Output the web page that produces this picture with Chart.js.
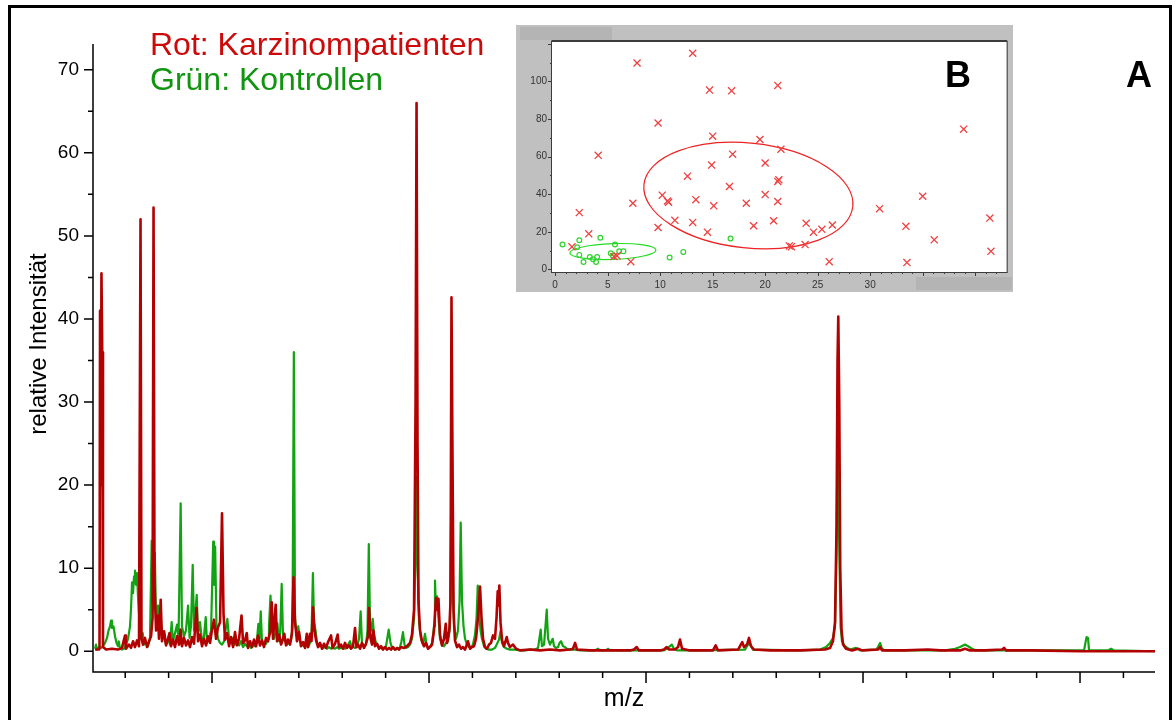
<!DOCTYPE html>
<html lang="de">
<head>
<meta charset="utf-8">
<title>Massenspektren</title>
<script src="https://cdn.jsdelivr.net/npm/chart.js@4.4.1/dist/chart.umd.min.js"></script>
<style>
  html, body { margin: 0; padding: 0; background: #fff; overflow: hidden; }
  #wrap { position: relative; width: 1176px; height: 720px; }
  #spektrum { position: absolute; left: 0; top: 0; }
  #streuung { position: absolute; left: 516px; top: 25px; }
  #rahmen { position: absolute; left: 8px; top: 5px; width: 1158px; height: 740px; border: 3px solid #000; pointer-events: none; }
</style>
</head>
<body>
<div id="wrap">
  <canvas id="spektrum" width="1176" height="720"></canvas>
  <canvas id="streuung" width="497" height="267"></canvas>
  <div id="rahmen"></div>
</div>
<script>
// Spektrum: m/z und relative Intensität, Karzinompatienten (rot)
const rotMz = [
  922, 958, 963, 968, 974, 981, 988, 995, 1023, 1078, 1134, 1170,
  1198, 1207, 1235, 1253, 1272, 1290, 1309, 1327, 1341, 1350, 1364, 1382,
  1401, 1419, 1438, 1452, 1461, 1470, 1484, 1502, 1511, 1527, 1539, 1558,
  1576, 1594, 1608, 1622, 1640, 1659, 1677, 1696, 1710, 1723, 1742, 1760,
  1779, 1797, 1816, 1834, 1857, 1871, 1889, 1908, 1926, 1945, 1963, 1982,
  2000, 2018, 2037, 2055, 2074, 2092, 2106, 2120, 2138, 2157, 2175, 2194,
  2212, 2230, 2249, 2272, 2286, 2304, 2320, 2332, 2350, 2369, 2387, 2406,
  2424, 2442, 2461, 2479, 2498, 2516, 2535, 2550, 2562, 2587, 2599, 2618,
  2636, 2650, 2666, 2682, 2700, 2719, 2737, 2751, 2765, 2783, 2802, 2820,
  2839, 2857, 2873, 2885, 2903, 2917, 2931, 2945, 2959, 2977, 2995, 3014,
  3032, 3051, 3069, 3097, 3111, 3134, 3158, 3170, 3189, 3207, 3226, 3244,
  3263, 3281, 3300, 3318, 3332, 3346, 3364, 3382, 3401, 3419, 3438, 3447,
  3461, 3475, 3488, 3502, 3521, 3539, 3558, 3576, 3594, 3613, 3631, 3650,
  3668, 3687, 3705, 3723, 3742, 3770, 3797, 3825, 3843, 3862, 3876, 3885,
  3894, 3903, 3917, 3935, 3954, 3972, 3991, 4009, 4028, 4046, 4064, 4076,
  4087, 4101, 4120, 4138, 4154, 4166, 4187, 4198, 4207, 4216, 4226, 4239,
  4258, 4276, 4295, 4313, 4332, 4359, 4378, 4396, 4415, 4433, 4451, 4470,
  4484, 4498, 4516, 4534, 4553, 4571, 4590, 4608, 4622, 4633, 4640, 4648,
  4659, 4673, 4691, 4716, 4728, 4746, 4774, 4802, 4839, 4931, 5023, 5115,
  5207, 5299, 5327, 5346, 5364, 5484, 5668, 5852, 5889, 5914, 5935, 6129,
  6166, 6191, 6212, 6267, 6295, 6313, 6332, 6405, 6617, 6642, 6663, 6848,
  6866, 6887, 6903, 6931, 6949, 6968, 6995, 7143, 7419, 7650, 7696, 7723,
  7742, 7756, 7765, 7772, 7781, 7790, 7802, 7816, 7843, 7899, 7954, 7991,
  8138, 8157, 8175, 8387, 8599, 8710, 8894, 8940, 8986, 9124, 9281, 9300,
  9318, 9539, 10000, 10369, 10691
];
const rotInt = [
  0.2, 0.2, 0.3, 41, 20, 45.5, 36, 0.5, 0.2, 0.3, 0.2, 0.4,
  1.9, 0.3, 0.8, 0.4, 1.2, 0.5, 1.3, 0.6, 52, 1.5, 0.8, 1.6,
  0.5, 1.2, 1.8, 4, 53.4, 8, 2.5, 4.3, 1.5, 6.2, 1.2, 2.4,
  0.7, 1.5, 2.2, 0.6, 1.4, 0.5, 1.8, 0.8, 2.6, 0.6, 1.6, 0.7,
  1.3, 0.5, 1.7, 0.9, 5.2, 1.2, 2.0, 0.6, 1.5, 0.7, 1.8, 1.0,
  2.6, 3.8, 1.5, 2.9, 3.5, 16.6, 4.5, 1.4, 2.2, 0.6, 1.7, 0.5,
  2.3, 0.7, 1.5, 4.3, 1.0, 1.3, 2.2, 0.4, 1.2, 0.5, 1.4, 0.6,
  1.9, 0.7, 1.3, 0.5, 1.6, 1.2, 2.3, 5.9, 1.5, 5.6, 1.2, 2.0,
  0.8, 1.3, 2.1, 0.7, 1.4, 0.8, 2.2, 8.9, 3.5, 1.2, 2.3, 0.6,
  1.1, 0.4, 2.1, 0.5, 2.1, 1.2, 5.3, 2.5, 1.3, 0.5, 1.0, 0.3,
  0.9, 0.4, 1.1, 1.9, 0.4, 0.9, 2.0, 0.5, 0.8, 0.3, 1.0, 0.4,
  0.7, 0.3, 0.6, 2.8, 0.5, 0.8, 0.3, 1.0, 0.4, 0.9, 1.8, 5.2,
  1.5, 0.8, 2.5, 0.6, 0.9, 0.3, 0.6, 0.2, 0.5, 0.2, 0.4, 0.2,
  0.5, 0.2, 0.4, 0.2, 0.5, 0.4, 0.6, 1.0, 2.0, 5.0, 30, 66,
  25, 6, 2.5, 1.2, 0.6, 1.0, 0.3, 0.5, 0.8, 2.5, 6.4, 5.0,
  6.3, 2.0, 0.7, 1.5, 3.3, 1.0, 2.5, 6, 42.6, 24, 5, 1.3,
  0.5, 0.8, 0.3, 0.5, 0.2, 1.2, 0.3, 0.5, 0.6, 1.5, 4.0, 7.8,
  4.0, 1.5, 0.5, 0.3, 0.8, 1.0, 1.9, 1.5, 4, 7.2, 5.5, 7.9,
  3.5, 1.3, 0.6, 1.7, 1.0, 0.5, 0.8, 0.3, 0.1, 0.2, 0.1, 0.2,
  0.1, 0.2, 0.3, 1.0, 0.2, 0.1, 0.1, 0.1, 0.2, 0.5, 0.1, 0.1,
  0.2, 0.5, 0.2, 0.2, 0.5, 1.4, 0.3, 0.1, 0.1, 0.7, 0.1, 0.2,
  0.6, 1.1, 0.5, 0.8, 1.6, 0.6, 0.2, 0.1, 0.1, 0.2, 0.4, 1.2,
  3.5, 15, 35, 40.3, 30, 10, 2.5, 0.8, 0.3, 0.1, 0.3, 0.1,
  0.2, 0.5, 0.1, 0.1, 0.2, 0.1, 0.1, 0.3, 0.1, 0.1, 0.2, 0.4,
  0.1, 0.1, 0, 0, 0
];

// Kontrollen (grün)
const gruenMz = [
  922, 931, 940, 958, 977, 995, 1014, 1032, 1046, 1060, 1069, 1078,
  1092, 1106, 1120, 1134, 1140, 1152, 1170, 1189, 1207, 1226, 1244, 1253,
  1263, 1272, 1281, 1290, 1299, 1309, 1318, 1327, 1336, 1346, 1361, 1373,
  1392, 1410, 1428, 1444, 1456, 1473, 1484, 1502, 1516, 1530, 1544, 1558,
  1576, 1594, 1613, 1628, 1640, 1659, 1677, 1691, 1711, 1723, 1742, 1760,
  1779, 1793, 1806, 1822, 1834, 1859, 1871, 1889, 1908, 1926, 1942, 1954,
  1972, 1991, 2011, 2018, 2029, 2041, 2055, 2074, 2092, 2111, 2124, 2141,
  2157, 2175, 2194, 2212, 2230, 2249, 2267, 2286, 2304, 2322, 2341, 2359,
  2378, 2396, 2415, 2427, 2438, 2449, 2461, 2479, 2498, 2516, 2525, 2539,
  2553, 2571, 2590, 2602, 2618, 2629, 2642, 2654, 2673, 2691, 2710, 2728,
  2742, 2754, 2765, 2779, 2795, 2811, 2829, 2848, 2866, 2885, 2903, 2917,
  2930, 2940, 2954, 2968, 2986, 3005, 3023, 3041, 3060, 3078, 3097, 3115,
  3134, 3152, 3170, 3189, 3207, 3226, 3244, 3258, 3272, 3286, 3300, 3318,
  3336, 3355, 3370, 3382, 3401, 3419, 3433, 3445, 3456, 3470, 3481, 3493,
  3511, 3530, 3548, 3567, 3585, 3604, 3628, 3645, 3659, 3677, 3696, 3714,
  3733, 3746, 3760, 3774, 3788, 3806, 3825, 3843, 3862, 3876, 3885, 3894,
  3908, 3926, 3945, 3963, 3977, 3991, 4009, 4028, 4046, 4055, 4064, 4074,
  4087, 4101, 4120, 4138, 4157, 4175, 4193, 4205, 4216, 4230, 4249, 4267,
  4281, 4292, 4304, 4318, 4332, 4350, 4368, 4387, 4405, 4424, 4438, 4449,
  4461, 4475, 4488, 4507, 4525, 4553, 4581, 4608, 4627, 4645, 4659, 4673,
  4691, 4719, 4746, 4793, 4839, 4885, 4931, 4977, 5005, 5029, 5041, 5060,
  5085, 5097, 5115, 5140, 5152, 5170, 5189, 5203, 5217, 5235, 5253, 5272,
  5299, 5346, 5392, 5530, 5558, 5576, 5631, 5650, 5668, 5945, 6166, 6203,
  6237, 6258, 6286, 6498, 6912, 6949, 6986, 7419, 7604, 7659, 7696, 7723,
  7742, 7756, 7768, 7779, 7793, 7806, 7834, 7880, 7935, 7972, 8120, 8138,
  8157, 8175, 8203, 8756, 8802, 8848, 8894, 8922, 8940, 8968, 9005, 9041,
  10037, 10060, 10074, 10083, 10258, 10286, 10313, 10691
];
const gruenInt = [
  0.3, 0.8, 0.2, 0.5, 0.4, 0.6, 1.0, 1.6, 2.5, 3.0, 3.7, 2.8,
  3.0, 1.8, 1.0, 0.6, 1.2, 0.3, 0.2, 0.3, 0.8, 1.5, 3.0, 5.0,
  8.3, 7.0, 9.0, 9.7, 8.0, 9.4, 6.5, 4.5, 3.0, 1.6, 2.2, 0.8,
  1.0, 0.6, 1.5, 13.3, 5, 11.8, 4, 5.5, 2.5, 3.3, 1.5, 2.2,
  0.8, 1.5, 0.8, 3.5, 1.2, 2.2, 3.2, 1.5, 17.8, 3.0, 1.8, 2.5,
  5.5, 1.6, 3, 10.4, 2.5, 6.8, 2.0, 3.5, 1.2, 1.8, 4.1, 1.0,
  1.5, 2.5, 13.2, 8, 12.6, 3, 1.5, 1.0, 0.8, 1.2, 2.5, 3.9,
  1.5, 1.1, 1.6, 0.8, 1.3, 0.7, 1.2, 0.5, 0.9, 0.6, 0.8, 0.4,
  0.8, 0.6, 1.5, 3.3, 1.5, 4.8, 1.0, 0.8, 0.9, 1.5, 3.0, 6.7,
  2.5, 1.5, 2.5, 3.4, 1.2, 2.5, 8.1, 2.0, 1.2, 0.8, 1.0, 1.3,
  3, 36, 4, 2.0, 3.0, 1.2, 0.8, 0.6, 0.8, 0.5, 1.0, 2.0,
  9.4, 3.5, 2.5, 1.0, 0.6, 0.8, 0.4, 0.5, 0.3, 0.5, 0.3, 0.4,
  0.3, 0.5, 0.3, 0.4, 0.5, 0.3, 0.5, 0.9, 1.2, 0.5, 0.5, 0.4,
  0.6, 1.5, 4.8, 1.0, 0.6, 0.8, 2.5, 12.9, 3.5, 2.5, 3.9, 2.0,
  1.0, 0.6, 0.5, 0.3, 0.4, 0.6, 2.6, 1.0, 0.4, 0.3, 0.2, 0.3,
  0.5, 1.2, 2.3, 0.8, 0.4, 0.5, 0.8, 1.5, 4, 12, 21, 10,
  3.5, 1.5, 0.8, 2.1, 0.8, 0.4, 0.5, 1.0, 3.0, 8.5, 5.0, 6.6,
  4.0, 1.5, 0.7, 0.6, 1.0, 1.2, 3.0, 18, 10, 3.0, 1.5, 2.5,
  6, 15.5, 6, 3.0, 1.5, 0.8, 0.5, 0.4, 0.8, 2.0, 4, 7.9,
  4.5, 2.5, 1.5, 0.6, 0.3, 0.2, 0.2, 0.4, 0.9, 1.4, 2.4, 1.0,
  0.5, 0.3, 0.2, 0.2, 0.1, 0.1, 0.2, 0.2, 0.4, 2.6, 0.6, 0.8,
  5.0, 1.5, 0.8, 1.5, 0.6, 0.4, 0.5, 1.0, 1.2, 0.6, 0.5, 0.3,
  0.2, 0.2, 0.1, 0.1, 0.3, 0.1, 0.1, 0.3, 0.1, 0.1, 0.1, 0.4,
  0.8, 0.3, 0.1, 0.1, 0.2, 1.0, 0.2, 0.1, 0.2, 0.5, 1.0, 1.6,
  3.0, 12, 30, 14, 3, 1.2, 0.6, 0.2, 0.4, 0.1, 0.2, 0.5,
  1.0, 0.3, 0.1, 0.1, 0.2, 0.3, 0.5, 0.7, 0.8, 0.6, 0.3, 0.1,
  0.1, 1.7, 1.6, 0.1, 0.1, 0.3, 0.1, 0
];

// Achsenteilung des Spektrums (ohne Zahlen an der m/z-Achse)
const yHaupt = [0, 10, 20, 30, 40, 50, 60, 70];
const yNeben = [5, 15, 25, 35, 45, 55, 65];
const xHaupt = [2000, 4000, 6000, 8000, 10000];
const xNeben = [1200, 1600, 2400, 2800, 3200, 3600, 4400, 4800, 5200, 5600,
  6400, 6800, 7200, 7600, 8400, 8800, 9200, 9600, 10400];

// Einsatz B: Streudiagramm mit Konfidenzellipsen
const rotX = [13.1, 7.8, 14.7, 16.8, 21.2, 9.8, 4.1, 15.0, 19.5, 21.5, 16.9, 14.9,
  20.0, 12.6, 16.6, 21.3, 21.2, 10.2, 20.0, 35.0, 10.7, 10.8, 13.4, 7.4,
  18.2, 21.2, 15.1, 30.9, 2.3, 11.4, 13.1, 20.8, 18.9, 23.9, 26.4, 33.4,
  9.8, 41.4, 24.6, 25.4, 14.5, 3.2, 36.1, 1.6, 22.3, 22.5, 23.8, 41.5,
  5.6, 5.9, 7.2, 26.1, 33.5, 38.9];
const rotY = [115, 109.8, 95.4, 95, 97.9, 77.9, 60.7, 70.9, 69.1, 63.9, 61.3, 55.5,
  56.6, 49.6, 44.1, 47.7, 46.8, 39.5, 39.8, 38.9, 36.4, 35.7, 37.1, 35.2,
  35.2, 36.1, 33.8, 32.3, 30.2, 26.1, 25, 25.9, 23.2, 24.5, 23.6, 22.9,
  22.3, 27.3, 19.8, 21.3, 19.8, 18.9, 15.7, 12.0, 12.5, 12.1, 13.2, 9.6,
  6.8, 7.2, 4.1, 4.1, 3.6, 74.6];
const gruenX = [0.7, 2.3, 4.3, 2.1, 2.3, 3.3, 4.0, 3.6, 3.9, 2.7, 5.7, 5.3, 5.5, 6.1, 6.5, 10.9, 12.2, 16.7];
const gruenY = [13.2, 15.5, 16.8, 11.8, 7.7, 6.6, 6.6, 5.4, 3.9, 3.9, 13.2, 8.6, 7.3, 9.6, 9.6, 6.3, 9.3, 16.4];

// Ellipsen: Mittelpunkt, Halbachsen (Dateneinheiten), Drehung in Grad
const ellipseX = [18.4, 5.5];
const ellipseY = [39.3, 9.5];
const ellipseHalbX = [10.0, 4.1];
const ellipseHalbY = [27.9, 4.2];
const ellipseWinkel = [6, -2];
const ellipseFarbe = ['#ee2222', '#22dd22'];

const einsatzYTicks = [0, 20, 40, 60, 80, 100];
const einsatzXTicks = [0, 5, 10, 15, 20, 25, 30, 35, 40];

const schrift = '"Liberation Sans", Arial, Helvetica, sans-serif';

const paare = (xs, ys) => xs.map((x, i) => ({ x, y: ys[i] }));

// Achsen, Teilstriche und Beschriftungen des Spektrums
const spektrumAchsen = {
  id: 'spektrumAchsen',
  afterDraw(chart) {
    const { ctx, chartArea: a } = chart;
    const sx = chart.scales.x;
    const sy = chart.scales.y;
    ctx.save();
    ctx.strokeStyle = '#000';
    ctx.lineWidth = 1.5;
    ctx.beginPath();
    ctx.moveTo(a.left, a.top);
    ctx.lineTo(a.left, a.bottom);
    ctx.lineTo(a.right, a.bottom);
    yHaupt.forEach(v => {
      const p = sy.getPixelForValue(v);
      ctx.moveTo(a.left - 9, p);
      ctx.lineTo(a.left, p);
    });
    yNeben.forEach(v => {
      const p = sy.getPixelForValue(v);
      ctx.moveTo(a.left - 5, p);
      ctx.lineTo(a.left, p);
    });
    xHaupt.forEach(v => {
      const p = sx.getPixelForValue(v);
      ctx.moveTo(p, a.bottom);
      ctx.lineTo(p, a.bottom + 11);
    });
    xNeben.forEach(v => {
      const p = sx.getPixelForValue(v);
      ctx.moveTo(p, a.bottom);
      ctx.lineTo(p, a.bottom + 6);
    });
    ctx.stroke();

    ctx.fillStyle = '#000';
    ctx.font = '19px ' + schrift;
    ctx.textAlign = 'right';
    ctx.textBaseline = 'middle';
    yHaupt.forEach(v => ctx.fillText(String(v), a.left - 14, sy.getPixelForValue(v)));

    ctx.font = '25px ' + schrift;
    ctx.textAlign = 'center';
    ctx.textBaseline = 'alphabetic';
    ctx.fillText('m/z', (a.left + a.right) / 2, 706);

    ctx.save();
    ctx.translate(46, 344);
    ctx.rotate(-Math.PI / 2);
    ctx.font = '24px ' + schrift;
    ctx.fillText('relative Intensität', 0, 0);
    ctx.restore();

    ctx.textAlign = 'left';
    ctx.font = '32px ' + schrift;
    ctx.fillStyle = '#cc0a0a';
    ctx.fillText('Rot: Karzinompatienten', 150, 55);
    ctx.fillStyle = '#119511';
    ctx.fillText('Grün: Kontrollen', 150, 90);

    ctx.fillStyle = '#000';
    ctx.font = 'bold 36px ' + schrift;
    ctx.fillText('A', 1126, 87);
    ctx.restore();
  }
};

new Chart(document.querySelector('#spektrum'), {
  type: 'line',
  data: {
    datasets: [
      {
        label: 'Karzinompatienten',
        data: paare(rotMz, rotInt),
        borderColor: '#b30000',
        borderWidth: 2.6,
        borderJoinStyle: 'round',
        pointRadius: 0,
        tension: 0,
        order: 1
      },
      {
        label: 'Kontrollen',
        data: paare(gruenMz, gruenInt),
        borderColor: '#12a312',
        borderWidth: 2.2,
        borderJoinStyle: 'round',
        pointRadius: 0,
        tension: 0,
        order: 2
      }
    ]
  },
  options: {
    responsive: false,
    animation: false,
    devicePixelRatio: 1,
    parsing: false,
    normalized: true,
    events: [],
    layout: { padding: { left: 93, top: 44, right: 21, bottom: 48 } },
    scales: {
      x: { type: 'linear', min: 903, max: 10691, display: false },
      y: { type: 'linear', min: -2.5, max: 73.1, display: false }
    },
    plugins: { legend: { display: false }, tooltip: { enabled: false } }
  },
  plugins: [spektrumAchsen]
});

// Grauer Rahmen, Ellipsen und Achsen des Einsatzes
const einsatzGestaltung = {
  id: 'einsatzGestaltung',
  beforeDraw(chart) {
    const { ctx, width, height, chartArea: a } = chart;
    ctx.save();
    ctx.fillStyle = '#c0c0c0';
    ctx.fillRect(0, 0, width, height);
    ctx.fillStyle = '#b4b4b4';
    ctx.fillRect(4, 2, 92, 13);
    ctx.fillStyle = '#fff';
    ctx.fillRect(a.left, a.top, a.right - a.left, a.bottom - a.top);
    ctx.restore();
  },
  beforeDatasetsDraw(chart) {
    const { ctx } = chart;
    const sx = chart.scales.x;
    const sy = chart.scales.y;
    ctx.save();
    ctx.lineWidth = 1.2;
    ellipseX.forEach((cx, i) => {
      const px = sx.getPixelForValue(cx);
      const py = sy.getPixelForValue(ellipseY[i]);
      const rx = Math.abs(sx.getPixelForValue(cx + ellipseHalbX[i]) - px);
      const ry = Math.abs(sy.getPixelForValue(ellipseY[i] + ellipseHalbY[i]) - py);
      ctx.strokeStyle = ellipseFarbe[i];
      ctx.beginPath();
      ctx.ellipse(px, py, rx, ry, ellipseWinkel[i] * Math.PI / 180, 0, Math.PI * 2);
      ctx.stroke();
    });
    ctx.restore();
  },
  afterDraw(chart) {
    const { ctx, chartArea: a } = chart;
    const sx = chart.scales.x;
    const sy = chart.scales.y;
    ctx.save();
    ctx.strokeStyle = '#3c3c3c';
    ctx.lineWidth = 1;
    ctx.strokeRect(a.left - 0.5, a.top - 0.5, a.right - a.left + 1, a.bottom - a.top + 1);
    ctx.beginPath();
    ctx.moveTo(a.left - 0.5, a.top - 1.5);
    ctx.lineTo(a.right + 0.5, a.top - 1.5);
    for (let v = 0; v <= 120; v += 10) {
      const p = Math.round(sy.getPixelForValue(v)) + 0.5;
      ctx.moveTo(a.left - (v % 20 === 0 ? 4 : 2), p);
      ctx.lineTo(a.left, p);
    }
    for (let v = 0; v <= 42; v += 1) {
      const p = Math.round(sx.getPixelForValue(v)) + 0.5;
      ctx.moveTo(p, a.bottom);
      ctx.lineTo(p, a.bottom + (v % 5 === 0 ? 4 : 2));
    }
    ctx.stroke();

    ctx.fillStyle = '#333';
    ctx.font = '10px ' + schrift;
    ctx.textAlign = 'right';
    ctx.textBaseline = 'middle';
    einsatzYTicks.forEach(v => ctx.fillText(String(v), a.left - 5, sy.getPixelForValue(v)));
    ctx.textAlign = 'center';
    einsatzXTicks.forEach(v => ctx.fillText(String(v), sx.getPixelForValue(v), a.bottom + 13));

    ctx.fillStyle = '#b4b4b4';
    ctx.fillRect(400, 252, 96, 13);

    ctx.fillStyle = '#000';
    ctx.font = 'bold 36px ' + schrift;
    ctx.textAlign = 'left';
    ctx.textBaseline = 'alphabetic';
    ctx.fillText('B', 429, 62);
    ctx.restore();
  }
};

new Chart(document.querySelector('#streuung'), {
  type: 'scatter',
  data: {
    datasets: [
      {
        label: 'Karzinompatienten',
        data: paare(rotX, rotY),
        pointStyle: 'crossRot',
        pointRadius: 5,
        borderColor: '#f04040',
        borderWidth: 1.3
      },
      {
        label: 'Kontrollen',
        data: paare(gruenX, gruenY),
        pointStyle: 'circle',
        pointRadius: 2.4,
        borderColor: '#2fd42f',
        backgroundColor: 'rgba(0,0,0,0)',
        borderWidth: 1.2
      }
    ]
  },
  options: {
    responsive: false,
    animation: false,
    devicePixelRatio: 1,
    parsing: false,
    events: [],
    layout: { padding: { left: 36, top: 17, right: 4, bottom: 20 } },
    scales: {
      x: { type: 'linear', min: -0.3, max: 43, display: false },
      y: { type: 'linear', min: -1.4, max: 121, display: false }
    },
    plugins: { legend: { display: false }, tooltip: { enabled: false } }
  },
  plugins: [einsatzGestaltung]
});
</script>
</body>
</html>
